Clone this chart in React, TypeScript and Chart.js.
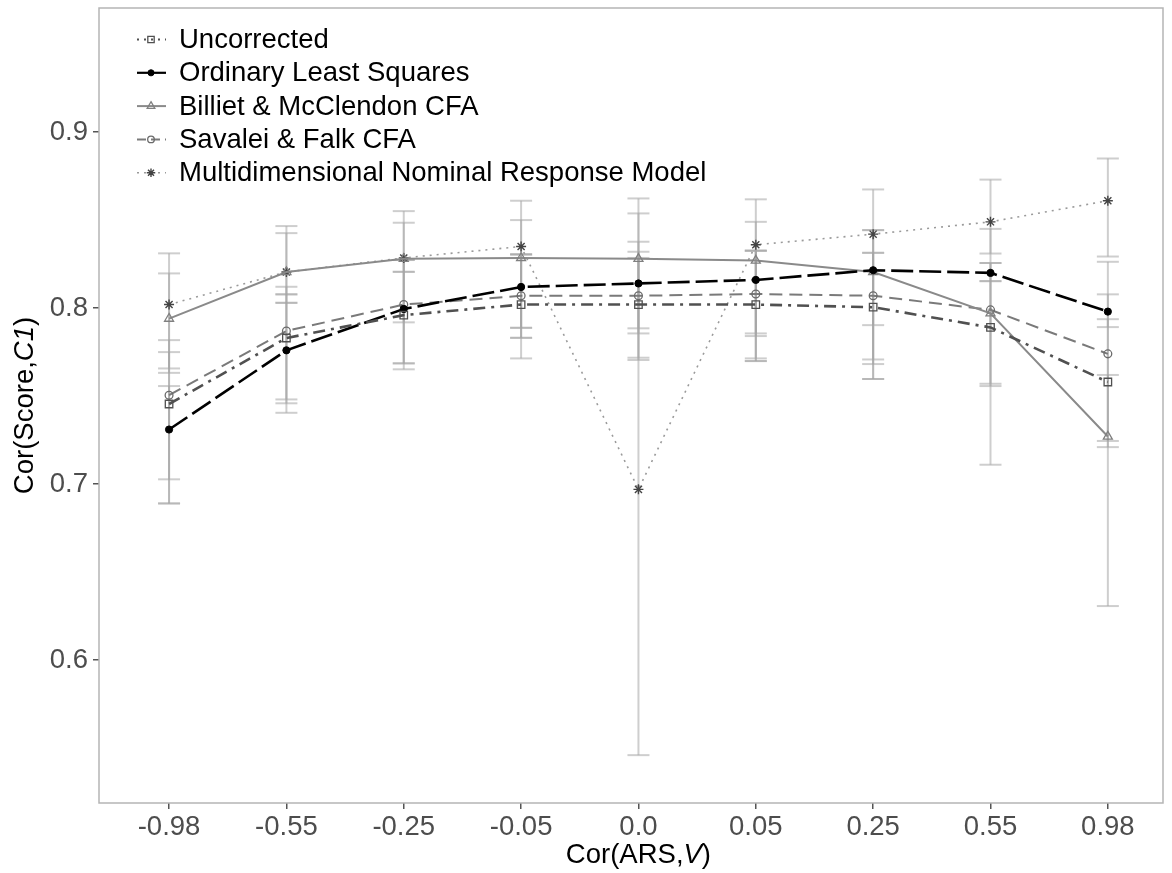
import React, { useEffect, useRef } from "react";
import { Chart, registerables } from "chart.js";
import { drawPoint } from "chart.js/helpers";

Chart.register(...registerables);

// ---------- data ----------
const categories = ["-0.98", "-0.55", "-0.25", "-0.05", "0.0", "0.05", "0.25", "0.55", "0.98"];
const yTickValues = [0.6, 0.7, 0.8, 0.9];

const uncorrected = [0.7455, 0.783, 0.796, 0.802, 0.802, 0.802, 0.8005, 0.789, 0.758];
const uncorrectedLo = [0.689, 0.7459, 0.7686, 0.7714, 0.7705, 0.7699, 0.7597, 0.7557, 0.721];
const uncorrectedHi = [0.7818, 0.803, 0.8206, 0.8305, 0.8285, 0.8326, 0.8314, 0.8153, 0.7937];

const ols = [0.731, 0.776, 0.7995, 0.812, 0.814, 0.816, 0.8215, 0.82, 0.798];
const olsLo = [0.7027, 0.7405, 0.7652, 0.7888, 0.7856, 0.7714, 0.7682, 0.8153, 0.7892];
const olsHi = [0.7557, 0.8078, 0.8273, 0.8305, 0.8377, 0.8326, 0.8443, 0.845, 0.8263];

const billiet = [0.794, 0.8205, 0.828, 0.8285, 0.828, 0.827, 0.8205, 0.797, 0.727];
const billietLo = [0.7632, 0.803, 0.7919, 0.7831, 0.7885, 0.7841, 0.7708, 0.711, 0.6307];
const billietHi = [0.8197, 0.8426, 0.8485, 0.85, 0.8538, 0.849, 0.8443, 0.8256, 0.762];

const savalei = [0.7505, 0.787, 0.802, 0.807, 0.807, 0.808, 0.807, 0.799, 0.774];
const savaleiLo = [0.689, 0.7481, 0.7686, 0.7831, 0.7718, 0.7699, 0.7597, 0.757, 0.7245];
const savaleiHi = [0.775, 0.8121, 0.8273, 0.8305, 0.832, 0.8326, 0.8314, 0.8256, 0.8078];

const mnrm = [0.802, 0.8205, 0.8285, 0.835, 0.697, 0.836, 0.842, 0.849, 0.861];
const mnrmLo = [0.7657, 0.8078, 0.8206, 0.7888, 0.546, 0.7856, 0.7903, 0.831, 0.8293];
const mnrmHi = [0.8311, 0.8466, 0.8551, 0.861, 0.8623, 0.8618, 0.8674, 0.873, 0.885];

// ---------- styles ----------
const FONT = "'Liberation Sans', Arial, Helvetica, sans-serif";
const FS = 27.5;

type Series = {
  label: string;
  values: number[];
  lo: number[];
  hi: number[];
  lineColor: string;
  lineWidth: number;
  dash: number[];
  legendDash: number[];
  pointStyle: string;
  radius: number;
  pointColor: string;
  pointFill: string;
  pointBorder: number;
};

const SERIES: Series[] = [
  {
    label: "Uncorrected", values: uncorrected, lo: uncorrectedLo, hi: uncorrectedHi,
    lineColor: "#505050", lineWidth: 2.6, dash: [12, 6, 3, 6], legendDash: [2, 5],
    pointStyle: "rect", radius: 5.3, pointColor: "#505050", pointFill: "rgba(0,0,0,0)", pointBorder: 1.3,
  },
  {
    label: "Ordinary Least Squares", values: ols, lo: olsLo, hi: olsHi,
    lineColor: "#000000", lineWidth: 2.6, dash: [22, 6], legendDash: [],
    pointStyle: "circle", radius: 3.6, pointColor: "#000000", pointFill: "#000000", pointBorder: 1,
  },
  {
    label: "Billiet & McClendon CFA", values: billiet, lo: billietLo, hi: billietHi,
    lineColor: "#8a8a8a", lineWidth: 2, dash: [], legendDash: [],
    pointStyle: "triangle", radius: 5.2, pointColor: "#808080", pointFill: "rgba(0,0,0,0)", pointBorder: 1.3,
  },
  {
    label: "Savalei & Falk CFA", values: savalei, lo: savaleiLo, hi: savaleiHi,
    lineColor: "#7a7a7a", lineWidth: 2, dash: [13, 7], legendDash: [9, 5],
    pointStyle: "circle", radius: 3.9, pointColor: "#6a6a6a", pointFill: "rgba(0,0,0,0)", pointBorder: 1.3,
  },
  {
    label: "Multidimensional Nominal Response Model", values: mnrm, lo: mnrmLo, hi: mnrmHi,
    lineColor: "#9a9a9a", lineWidth: 1.6, dash: [2, 5], legendDash: [2, 5],
    pointStyle: "star", radius: 5, pointColor: "#444444", pointFill: "rgba(0,0,0,0)", pointBorder: 1.4,
  },
];

// ---------- plugins ----------
const framePlugin = {
  id: "frameAndErrorBars",
  beforeDatasetsDraw(chart: any) {
    const { ctx, chartArea, scales } = chart;
    const x = scales.x;
    const y = scales.y;
    ctx.save();
    ctx.strokeStyle = "#b5b5b5";
    ctx.lineWidth = 1.5;
    ctx.strokeRect(chartArea.left, chartArea.top, chartArea.right - chartArea.left, chartArea.bottom - chartArea.top);
    ctx.strokeStyle = "rgba(165,165,165,0.55)";
    ctx.lineWidth = 2;
    const cap = 11;
    SERIES.forEach((s) => {
      s.lo.forEach((lo, i) => {
        const px = x.getPixelForValue(i);
        const pl = y.getPixelForValue(lo);
        const ph = y.getPixelForValue(s.hi[i]);
        ctx.beginPath();
        ctx.moveTo(px, pl);
        ctx.lineTo(px, ph);
        ctx.stroke();
        ctx.beginPath();
        ctx.moveTo(px - cap, pl);
        ctx.lineTo(px + cap, pl);
        ctx.stroke();
        ctx.beginPath();
        ctx.moveTo(px - cap, ph);
        ctx.lineTo(px + cap, ph);
        ctx.stroke();
      });
    });
    ctx.restore();
  },
};

function drawMixed(ctx: CanvasRenderingContext2D, parts: [string, boolean][], cx: number, cy: number, rotate: boolean) {
  ctx.save();
  ctx.translate(cx, cy);
  if (rotate) ctx.rotate(-Math.PI / 2);
  ctx.fillStyle = "#000";
  ctx.textBaseline = "middle";
  ctx.textAlign = "left";
  const fonts = parts.map(([, it]) => `${it ? "italic " : ""}${FS}px ${FONT}`);
  let total = 0;
  const widths = parts.map(([t], i) => {
    ctx.font = fonts[i];
    const w = ctx.measureText(t).width;
    total += w;
    return w;
  });
  let xx = -total / 2;
  parts.forEach(([t], i) => {
    ctx.font = fonts[i];
    ctx.fillText(t, xx, 0);
    xx += widths[i];
  });
  ctx.restore();
}

const overlayPlugin = {
  id: "overlay",
  afterDraw(chart: any) {
    const { ctx, chartArea, scales } = chart;
    drawMixed(ctx, [["Cor(ARS,", false], ["V", true], [")", false]], scales.x.getPixelForValue(4), 855, false);
    drawMixed(ctx, [["Cor(Score,", false], ["C1", true], [")", false]], 25, (chartArea.top + chartArea.bottom) / 2, true);

    const x0 = 137;
    const x1 = 166;
    const xm = 151;
    const textX = 179;
    const rowY0 = 39.5;
    const step = 33.3;
    ctx.save();
    SERIES.forEach((s, i) => {
      const yy = rowY0 + i * step;
      ctx.beginPath();
      ctx.strokeStyle = s.lineColor;
      ctx.lineWidth = Math.min(s.lineWidth, 2.2);
      ctx.setLineDash(s.legendDash);
      ctx.moveTo(x0, yy);
      ctx.lineTo(x1, yy);
      ctx.stroke();
      ctx.setLineDash([]);
      ctx.strokeStyle = s.pointColor;
      ctx.fillStyle = s.pointFill;
      ctx.lineWidth = s.pointBorder;
      drawPoint(ctx, { pointStyle: s.pointStyle as any, radius: s.radius * 0.85, rotation: 0, borderWidth: s.pointBorder }, xm, yy);
      ctx.fillStyle = "#000";
      ctx.font = `${FS}px ${FONT}`;
      ctx.textBaseline = "middle";
      ctx.textAlign = "left";
      ctx.fillText(s.label, textX, yy + 1);
    });
    ctx.restore();
  },
};

export default function App() {
  const ref = useRef<HTMLCanvasElement | null>(null);

  useEffect(() => {
    if (!ref.current) return;
    const datasets = SERIES.map((s) => ({
      label: s.label,
      data: s.values.map((v, i) => ({ x: i, y: v })),
      borderColor: s.lineColor,
      borderWidth: s.lineWidth,
      borderDash: s.dash,
      fill: false,
      tension: 0,
      pointStyle: s.pointStyle as any,
      pointRadius: s.radius,
      pointBorderColor: s.pointColor,
      pointBackgroundColor: s.pointFill,
      pointBorderWidth: s.pointBorder,
    }));

    const tickFont = { family: FONT, size: FS };
    const chart = new Chart(ref.current, {
      type: "line",
      data: { datasets },
      options: {
        animation: false,
        responsive: false,
        maintainAspectRatio: false,
        devicePixelRatio: 1,
        layout: { padding: { top: 8, right: 9, left: 0, bottom: 0 } },
        plugins: {
          legend: { display: false },
          tooltip: { enabled: false },
          title: { display: false },
        },
        scales: {
          x: {
            type: "linear",
            min: -0.597,
            max: 8.47,
            afterBuildTicks: (scale: any) => {
              scale.ticks = categories.map((_, i) => ({ value: i }));
            },
            afterFit: (scale: any) => {
              scale.height = 70;
              scale.paddingLeft = 0;
              scale.paddingRight = 0;
            },
            ticks: {
              callback: (v: any) => categories[Math.round(Number(v))],
              font: tickFont,
              color: "#4d4d4d",
              padding: 2,
              autoSkip: false,
              maxRotation: 0,
              minRotation: 0,
            },
            grid: { drawOnChartArea: false, drawTicks: true, tickLength: 6, color: "#555", lineWidth: 1.5 },
            border: { display: false },
          },
          y: {
            type: "linear",
            min: 0.5188,
            max: 0.9705,
            afterBuildTicks: (scale: any) => {
              scale.ticks = yTickValues.map((v) => ({ value: v }));
            },
            afterFit: (scale: any) => {
              scale.width = 99;
              scale.paddingTop = 0;
              scale.paddingBottom = 0;
            },
            ticks: {
              callback: (v: any) => Number(v).toFixed(1),
              font: tickFont,
              color: "#4d4d4d",
              padding: 5,
            },
            grid: { drawOnChartArea: false, drawTicks: true, tickLength: 6, color: "#555", lineWidth: 1.5 },
            border: { display: false },
          },
        },
      },
      plugins: [framePlugin, overlayPlugin],
    } as any);
    return () => chart.destroy();
  }, []);

  return (
    <div style={{ position: "absolute", left: 0, top: 0, width: 1172, height: 873, background: "#fff" }}>
      <canvas ref={ref} width={1172} height={873} style={{ width: 1172, height: 873, display: "block" }} />
    </div>
  );
}
